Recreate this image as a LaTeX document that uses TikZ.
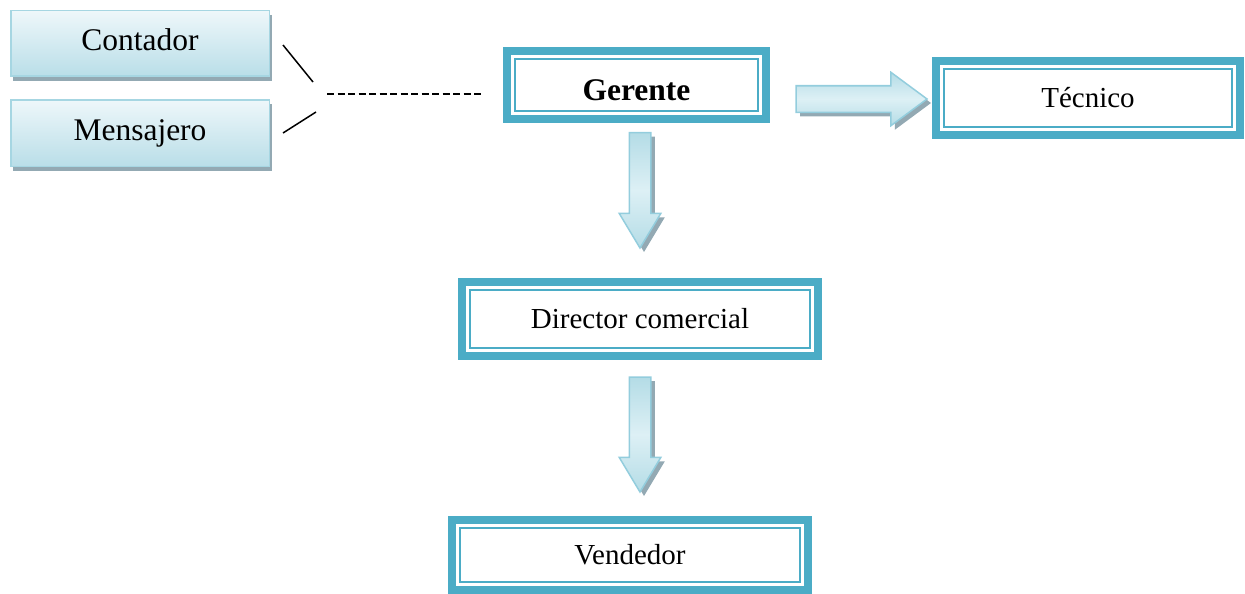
\documentclass[tikz,border=0pt]{standalone}
\usepackage{fontspec}
\setmainfont{Liberation Serif}
\usetikzlibrary{shadows,shapes.arrows}
\definecolor{tealb}{HTML}{4BACC6}
\definecolor{arrbord}{HTML}{93CDDD}
\definecolor{arrlight}{HTML}{DDF0F5}
\definecolor{arrdark}{HTML}{B4DCE6}
\definecolor{shadc}{HTML}{93A9B3}
\definecolor{boxtop}{HTML}{EEF7FA}
\definecolor{boxbot}{HTML}{B9DEE8}
\definecolor{boxbord}{HTML}{A6D6E2}
\tikzset{
  lightbox/.style={rectangle, draw=boxbord, line width=1.5pt, top color=boxtop, bottom color=boxbot,
    inner sep=0pt, outer sep=0pt, text height=22pt, text depth=8pt,
    font=\fontsize{31.5}{36}\selectfont,
    drop shadow={shadow xshift=2.5pt, shadow yshift=-4.5pt, fill=shadc, opacity=1}},
  dbox/.style={rectangle, draw=tealb, line width=8pt, fill=white, inner sep=0pt, outer sep=0pt,
    font=\fontsize{29}{34}\selectfont},
  innerline/.style={draw=tealb, line width=2.6pt},
  blockarrow/.style={single arrow, draw=arrbord, line width=1.5pt, inner xsep=0pt, outer sep=0pt,
    anchor=tail,
    single arrow head indent=0pt, top color=arrdark, bottom color=arrdark, middle color=arrlight,
    drop shadow={shadow xshift=4pt, shadow yshift=-4pt, fill=shadc, opacity=1}},
  thinline/.style={line width=1.5pt, black},
  dashline/.style={line width=2pt, black, dash pattern=on 7pt off 3.5pt}
}
\begin{document}
\begin{tikzpicture}[x=1pt,y=-1pt]
\useasboundingbox (0,0) rectangle (1245,594);
% light boxes
\node[lightbox, minimum width=258.5pt, minimum height=65.5pt] (con) at (140,43.5) {Contador};
\node[lightbox, minimum width=258.5pt, minimum height=66.5pt] (men) at (140,133) {Mensajero};
% double-frame boxes
\node[dbox, minimum width=259pt, minimum height=68pt, font=\fontsize{31.5}{36}\selectfont\bfseries,
  text height=31pt, text depth=0pt] (ger) at (636.5,85) {Gerente};
\node[dbox, minimum width=304pt, minimum height=74pt] (tec) at (1088,98) {Técnico};
\node[dbox, minimum width=356pt, minimum height=74pt] (dir) at (640,319) {Director comercial};
\node[dbox, minimum width=356pt, minimum height=70pt] (ven) at (630,555) {Vendedor};
\foreach \n in {ger,tec,dir,ven}
  \draw[innerline] ([shift={(8,8)}]\n.north west) rectangle ([shift={(-8,-8)}]\n.south east);
% connector lines
\coordinate (l1a) at (283,45);
\coordinate (l1b) at (313,82);
\coordinate (l2a) at (283,133);
\coordinate (l2b) at (316,112);
\coordinate (d1) at (327,94);
\coordinate (d2) at (484,94);
\draw[thinline] (l1a) -- (l1b);
\draw[thinline] (l2a) -- (l2b);
\draw[dashline] (d1) -- (d2);
% block arrows
\node[blockarrow, minimum height=131pt, inner ysep=12.5pt, single arrow head extend=13.5pt,
  single arrow tip angle=73] (ra) at (796,99) {};
\node[blockarrow, rotate=-90, minimum height=115.5pt, inner ysep=10pt, single arrow head extend=10pt,
  single arrow tip angle=62] (da1) at (640,132.5) {};
\node[blockarrow, rotate=-90, minimum height=115pt, inner ysep=10pt, single arrow head extend=10pt,
  single arrow tip angle=62] (da2) at (640,377) {};
\end{tikzpicture}
\end{document}
